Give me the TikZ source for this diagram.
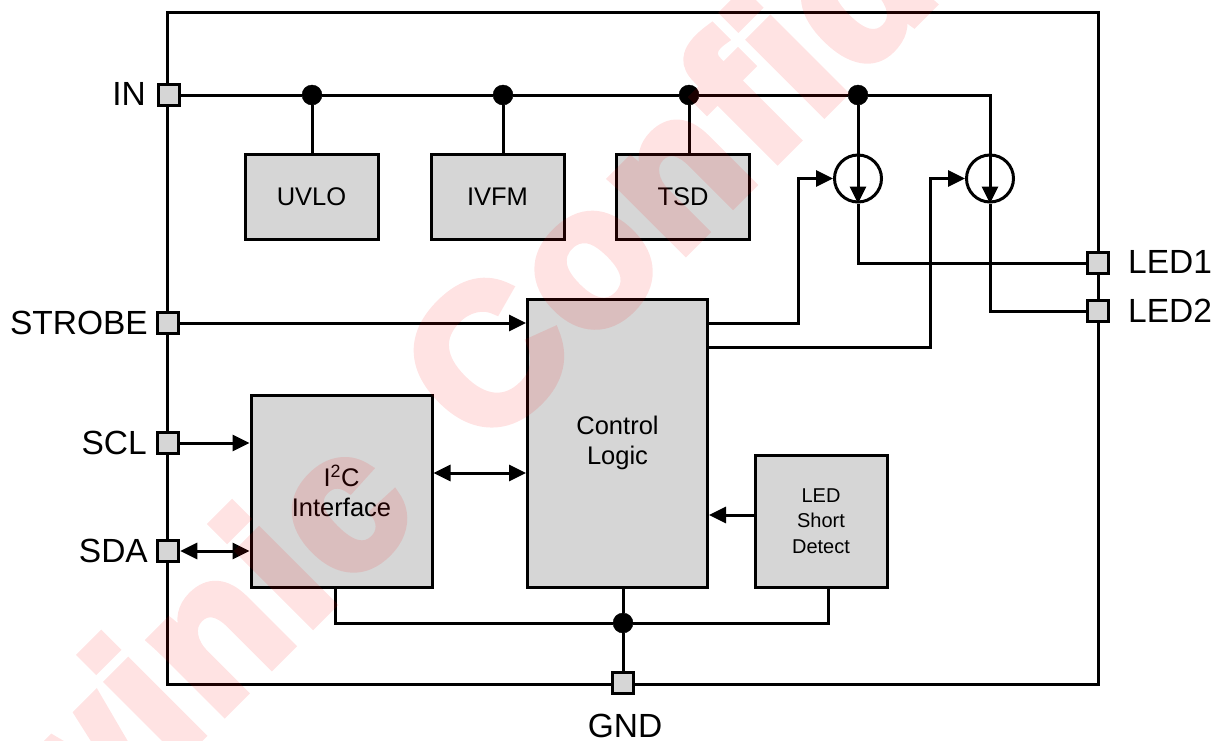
\documentclass[tikz,border=0pt]{standalone}
\usepackage{fontspec}
\setmainfont{Liberation Sans}
\newfontfamily\wmfont[BoldFeatures={FakeBold=4.6,LetterSpace=3}]{Liberation Sans}
\usetikzlibrary{arrows.meta,shapes.geometric,calc}
\definecolor{boxgray}{HTML}{D6D6D6}
\tikzset{
  x=1pt,y=-1pt,
  wire/.style={line width=3pt,line join=miter,line cap=butt},
  arr/.style={wire,-{Triangle[length=17pt,width=16pt]}},
  biarr/.style={wire,{Triangle[length=17pt,width=16pt]}-{Triangle[length=17pt,width=16pt]}},
  pin/.style={draw,line width=3pt,fill=boxgray,minimum size=21.5pt,inner sep=0pt},
  block/.style={draw,line width=3pt,fill=boxgray,inner sep=0pt,align=center,font=\fontsize{25.5}{30}\selectfont},
  dotn/.style={circle,fill=black,draw=black,minimum size=20pt,inner sep=0pt},
  src/.style={circle,draw,line width=3pt,minimum size=47pt,inner sep=0pt},
  plabel/.style={font=\fontsize{33.5}{36}\selectfont,inner sep=0pt},
}
\begin{document}
\begin{tikzpicture}
\useasboundingbox (0,0) rectangle (1218,740);
\fill[white] (0,0) rectangle (1218,740);
% package outline
\coordinate (tl) at (167,12);\coordinate (br) at (1098,684);
\draw[wire] (tl) rectangle (br);
% pins
\node[pin] (pIN) at (169,95) {};
\node[pin] (pST) at (168,323) {};
\node[pin] (pSCL) at (168,443) {};
\node[pin] (pSDA) at (168,551) {};
\node[pin] (pGND) at (623,683) {};
\node[pin] (pL1) at (1098,263) {};
\node[pin] (pL2) at (1098,311) {};
\node[plabel,anchor=east] (lIN) at (146,94) {IN};
\node[plabel,anchor=east] (lST) at (148,323) {STROBE};
\node[plabel,anchor=east] (lSCL) at (147,443) {SCL};
\node[plabel,anchor=east] (lSDA) at (148,551) {SDA};
\node[plabel] (lGND) at (625,726) {GND};
\node[plabel,anchor=west] (lL1) at (1128,262) {LED1};
\node[plabel,anchor=west] (lL2) at (1128,311) {LED2};
% blocks
\node[block,minimum width=133pt,minimum height=85pt] (uvlo) at (311.5,196.5) {UVLO};
\node[block,minimum width=133pt,minimum height=85pt] (ivfm) at (497.5,196.5) {IVFM};
\node[block,minimum width=133pt,minimum height=85pt] (tsd) at (683,196.5) {TSD};
\node[block,minimum width=180pt,minimum height=288pt] (ctrl) at (617.5,443) {Control\\Logic};
\node[block,minimum width=181pt,minimum height=192pt] (i2c) at (341.5,491) {I\textsuperscript{2}C\\Interface};
\node[block,minimum width=132pt,minimum height=132pt,font=\fontsize{20}{25.5}\selectfont] (lsd) at (821,521) {LED\\Short\\Detect};
% junctions
\node[dotn] (j1) at (312,95) {};
\node[dotn] (j2) at (503,95) {};
\node[dotn] (j3) at (689,95) {};
\node[dotn] (j4) at (858,95) {};
\node[dotn] (j5) at (623,623) {};
% current sources
\node[src] (s1) at (858,178.5) {};
\node[src] (s2) at (990,178.5) {};
% wires
\draw[wire] (pIN) -- (j1) -- (j2) -- (j3) -- (j4) -- (990,95) -- (s2.north);
\draw[wire] (j1) -- (j1 |- uvlo.north);
\draw[wire] (j2) -- (j2 |- ivfm.north);
\draw[wire] (j3) -- (j3 |- tsd.north);
\draw[wire] (j4) -- (s1.north);
\draw[arr] (s1.north) -- (s1.south);
\draw[arr] (s2.north) -- (s2.south);
\draw[wire] (s1.south) |- (pL1.west);
\draw[wire] (s2.south) |- (pL2.west);
\coordinate (c1) at (ctrl.east |- 0,323);
\coordinate (c2) at (ctrl.east |- 0,347);
\coordinate (t1) at (798,178.5);
\coordinate (t2) at (930,178.5);
\draw[arr] (c1) -| (t1) -- (s1.west);
\draw[arr] (c2) -| (t2) -- (s2.west);
\draw[arr] (pST.east) -- (ctrl.west |- pST.east);
\draw[arr] (pSCL.east) -- (i2c.west |- pSCL.east);
\draw[biarr] (pSDA.east) -- (i2c.west |- pSDA.east);
\coordinate (ci) at (0,473);
\draw[biarr] (i2c.east |- ci) -- (ctrl.west |- ci);
\coordinate (cl) at (0,515);
\draw[arr] (lsd.west |- cl) -- (ctrl.east |- cl);
\coordinate (b1) at (335,0);
\coordinate (b2) at (828,0);
\draw[wire] (b1 |- i2c.south) |- (j5);
\draw[wire] (b2 |- lsd.south) |- (j5);
\draw[wire] (ctrl.south -| j5) -- (j5) -- (pGND.north);
% watermark
\begin{scope}[transparency group,opacity=0.11]
\node[rotate=45,anchor=base west,font=\wmfont\bfseries\fontsize{195}{195}\selectfont,text=red,inner sep=0pt] (wmark) at (-40,977) {Awinic\hspace{27pt} Confidential};
\end{scope}
\end{tikzpicture}
\end{document}
